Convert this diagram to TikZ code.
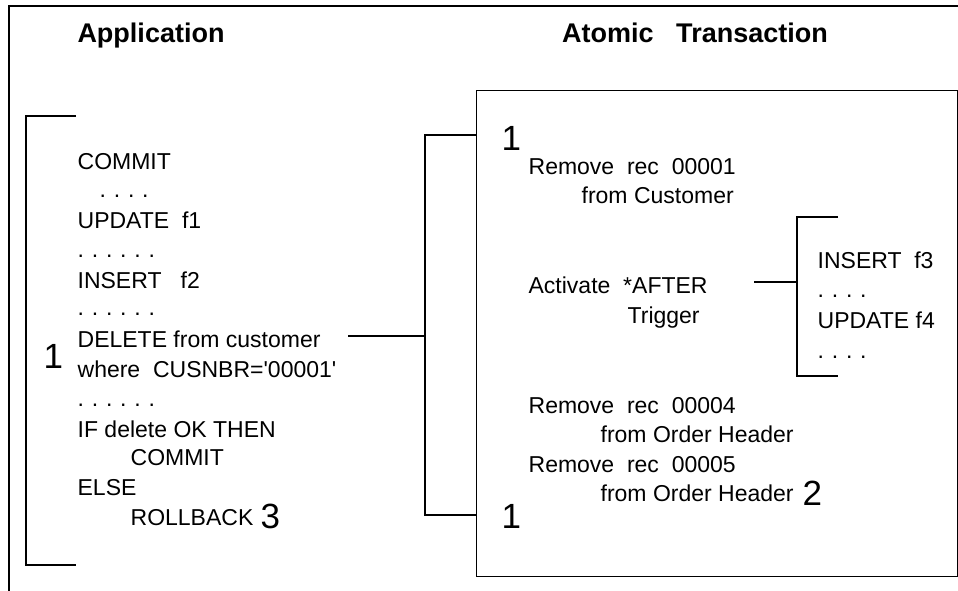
\documentclass[tikz,border=0pt]{standalone}
\usepackage{fontspec}
\setmainfont{Liberation Sans}
\usetikzlibrary{positioning}
\tikzset{
  every picture/.style={line width=1.3pt},
  txt/.style={anchor=base west, inner sep=0pt, font=\fontsize{23}{28}\selectfont},
  title/.style={anchor=base, inner sep=0pt, font=\fontsize{27}{32}\selectfont\bfseries},
  big/.style={anchor=base west, inner sep=0pt, font=\fontsize{35}{40}\selectfont},
}
\newcommand\dg{\hspace{7.8pt}}
\newcommand\dotsfour{.\dg.\dg.\dg.}
\newcommand\dotssix{.\dg.\dg.\dg.\dg.\dg.}

\begin{document}
\begin{tikzpicture}[x=1pt,y=-1pt]
  \useasboundingbox (0,0) rectangle (958,591);
  \draw (9,591) -- (9,6) -- (958,6);
  \node[title] (apptitle) at (151,43) {Application};
  \node[title] (txtitle) at (695,43) {Atomic\ \ \ Transaction};
  % application side
  \foreach \x/\y/\t [count=\i] in {77/169/COMMIT, 99/197/\dotsfour, 77/228/{UPDATE\ \ f1},
      77/257/\dotssix, 77/288/{INSERT\ \ \ f2}, 77/315/\dotssix,
      77/347/{DELETE from customer}, 77/377/{where\ \ CUSNBR=\textquotesingle00001\textquotesingle}, 77/406/\dotssix,
      77/437/{IF delete OK THEN}, 130/465/COMMIT, 77/495/ELSE, 130/525/ROLLBACK}
    \node[txt] (app\i) at (\x,\y) {\t};
  \node[big] (one) at (43,368) {1};
  \node[big] (three) at (260,528) {3};
  \coordinate (brtop) at (76,116);
  \coordinate (brbot) at (76,565);
  \draw (brtop) -- (26,116) -- (26,565) -- (brbot);
  % transaction side
  \node[draw, anchor=north west, minimum width=481pt, minimum height=486pt, inner sep=0pt] (txbox) at (476,90) {};
  \foreach \x/\y/\t [count=\i] in {528/175/{Remove\ \ rec\ \ 00001}, 581/203/{from Customer},
      528/293/{Activate\ \ *AFTER}, 627/323/Trigger,
      528/413/{Remove\ \ rec\ \ 00004}, 600/442/{from Order Header},
      528/472/{Remove\ \ rec\ \ 00005}, 600/501/{from Order Header}}
    \node[txt] (tx\i) at (\x,\y) {\t};
  \node[big] (onetop) at (501,150) {1};
  \node[big] (onebot) at (501,528) {1};
  \node[big] (two) at (802,505) {2};
  % trigger program
  \foreach \y/\t [count=\i] in {268/{INSERT\ \ f3}, 297/\dotsfour, 328/{UPDATE f4}, 358/\dotsfour}
    \node[txt] (trg\i) at (817,\y) {\t};
  % connectors
  \coordinate (delout) at (348,336);
  \coordinate (jm) at (425,336);
  \coordinate (jt) at (425,135);
  \coordinate (jb) at (425,515);
  \draw (delout) -- (jm);
  \draw (txbox.west |- jt) -- (jt) -- (jb) -- (txbox.west |- jb);
  \coordinate (actout) at (754,282);
  \coordinate (tm) at (797,282);
  \draw (actout) -- (tm);
  \draw (838,217) -- (797,217) -- (797,376) -- (838,376);
\end{tikzpicture}
\end{document}
